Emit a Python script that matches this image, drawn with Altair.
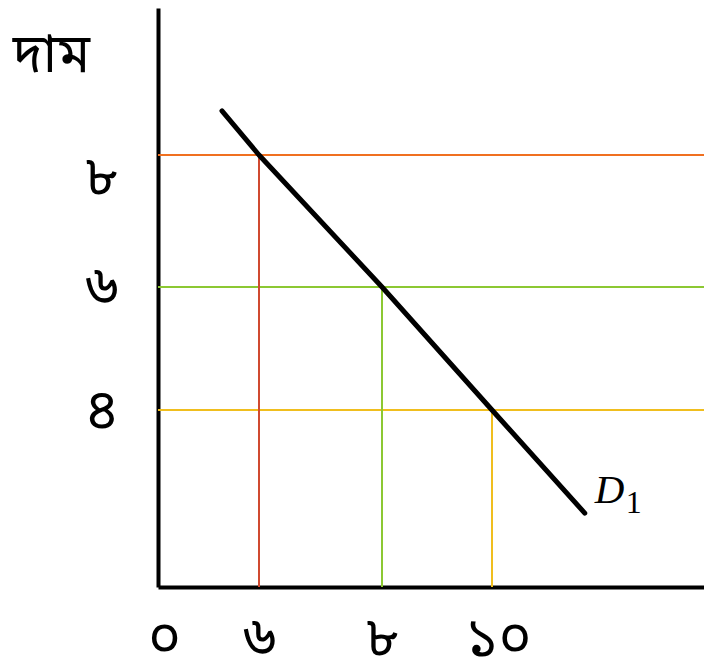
import altair as alt
import pandas as pd

# ---- data ----
quantity = [6, 8, 10]
price = [8, 6, 4]
x_ticks = [0, 6, 8, 10]
x_tick_labels = ["০", "৬", "৮", "১০"]
y_ticks = [4, 6, 8]
y_tick_labels = ["৪", "৬", "৮"]
demand_q = [3.8, 6, 8, 10, 11.75]
demand_p = [8.75, 8, 6, 4, 1.67]
y_title = "দাম"
curve_name = "D"
curve_sub = "1"

# ---- styles ----
h_colors = ["#F0BE1E", "#8CC832", "#F07020"]   # for price 4, 6, 8
v_colors = ["#F0BE1E", "#8CC832", "#D04A30"]
h_widths = [2, 2, 3]
bn_font = "Noto Sans Bengali, Noto Serif Bengali, Lohit Bengali, Vrinda, sans-serif"

lines = pd.DataFrame({"quantity": quantity, "price": price})
demand = pd.DataFrame({"quantity": demand_q, "price": demand_p})
end_pt = demand.tail(1).assign(name=curve_name, sub=curve_sub)

x_scale = alt.Scale(domain=[0, 6, 8, 10, 14], range=[0, 101, 224, 334, 546], zero=False, nice=False)
y_scale = alt.Scale(domain=[0, 4, 6, 8, 10.5], range=[579, 402, 279, 147, 0], zero=False, nice=False)

def lab_expr(vals, labs):
    return "[" + ",".join("'%s'" % l for l in labs) + "][indexof([" + ",".join(str(v) for v in vals) + "], datum.value)]"

x_axis = alt.Axis(values=x_ticks, labelExpr=lab_expr(x_ticks, x_tick_labels), ticks=False, grid=False,
                  domainWidth=4, domainColor="black", labelFont=bn_font, labelFontSize=56,
                  labelColor="black", labelPadding=68, labelBaseline="alphabetic",
                  labelOffset={"condition": {"test": "datum.value == 0 || datum.value == 10", "value": 6}, "value": 0},
                  labelFlush=False, labelOverlap=False, title=None)
y_axis = alt.Axis(values=y_ticks, labelExpr=lab_expr(y_ticks, y_tick_labels), ticks=False, grid=False,
                  domainWidth=4, domainColor="black", labelFont=bn_font, labelFontSize=56,
                  labelColor="black", labelPadding=40, labelOverlap=False,
                  labelOffset={"condition": {"test": "datum.value == 8", "value": 22}, "value": 0},
                  title=y_title, titleAngle=0, titleX=-107, titleY=63, titleAlign="center",
                  titleBaseline="alphabetic", titleFont=bn_font, titleFontSize=54,
                  titleFontWeight="normal", titleColor="black")

X = lambda: alt.X("quantity:Q", scale=x_scale, axis=x_axis)
Y = lambda: alt.Y("price:Q", scale=y_scale, axis=y_axis)

hrules = alt.Chart(lines).mark_rule().encode(
    y=Y(),
    color=alt.Color("price:N", scale=alt.Scale(domain=[4, 6, 8], range=h_colors), legend=None),
    strokeWidth=alt.StrokeWidth("price:N", scale=alt.Scale(domain=[4, 6, 8], range=h_widths), legend=None),
)

vrules = alt.Chart(lines).mark_rule(strokeWidth=2).encode(
    x=X(),
    y=Y(),
    y2=alt.datum(0),
    stroke=alt.Stroke("price:N", scale=alt.Scale(domain=[4, 6, 8], range=v_colors), legend=None),
)

dline = alt.Chart(demand).mark_line(color="black", strokeWidth=5, strokeCap="round", strokeJoin="round").encode(
    x=X(),
    y=Y(),
    order=alt.Order("quantity:Q"),
)

dlabel = alt.Chart(end_pt).mark_text(align="left", baseline="alphabetic", dx=10, dy=-10,
                                     font="Liberation Serif", fontStyle="italic", fontSize=41, color="black").encode(
    x=X(), y=Y(), text="name:N",
)
dsub = alt.Chart(end_pt).mark_text(align="left", baseline="alphabetic", dx=41, dy=0,
                                   font="Liberation Serif", fontSize=32, color="black").encode(
    x=X(), y=Y(), text="sub:N",
)

chart = alt.layer(hrules, vrules, dline, dlabel, dsub).resolve_scale(
    color="independent", stroke="independent", strokeWidth="independent"
).properties(
    width=546, height=579,
    autosize=alt.AutoSizeParams(type="none"),
    padding={"left": 150, "top": 0, "right": 0, "bottom": 76},
    background="white",
).configure_view(stroke=None)

chart.save("out.html", embed_options={"renderer": "svg", "actions": False})
